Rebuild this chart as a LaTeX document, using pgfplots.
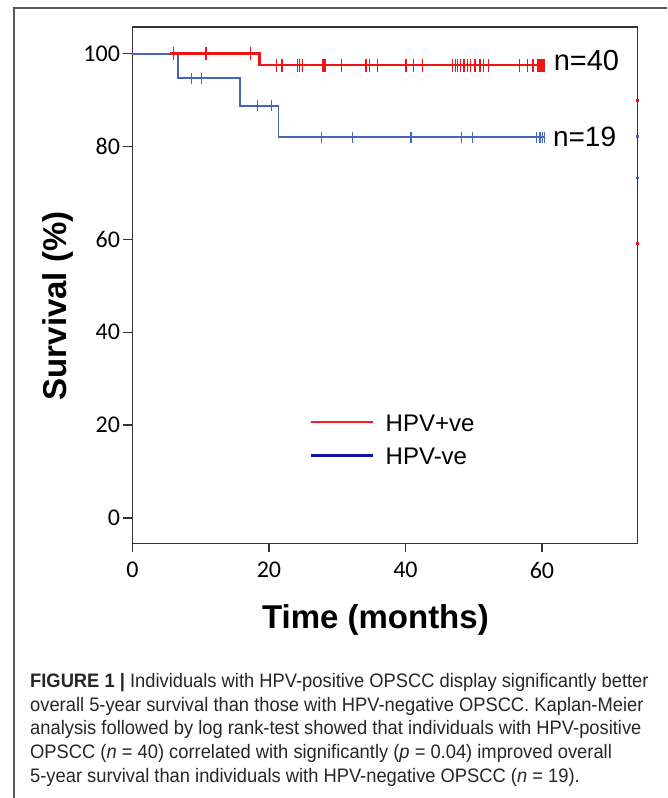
\documentclass[border=0pt]{standalone}
\usepackage{fontspec}
\setmainfont{Liberation Sans}
\newfontfamily\tickfont{Carlito}
\newfontfamily\capfont[FakeStretch=0.94]{Liberation Sans}
\usepackage{pgfplots}
\pgfplotsset{compat=1.18}

\definecolor{kmred}{RGB}{240,20,20}
\definecolor{kmblue}{RGB}{70,100,185}
\definecolor{legred}{RGB}{250,30,30}
\definecolor{legblue}{RGB}{10,20,160}
\definecolor{framegray}{RGB}{90,90,90}

\begin{document}
\begin{tikzpicture}[x=1pt,y=1pt]
\useasboundingbox (0,0) rectangle (667,798);
% outer figure frame (cut at right and bottom)
\draw[framegray, line width=1.2pt] (14,0) -- (14,790) -- (667,790);

\begin{axis}[
  at={(132.5pt,254.5pt)}, anchor=south west,
  width=505pt, height=516.5pt, scale only axis,
  xmin=0, xmax=74, ymin=-5.5, ymax=105.75,
  xtick={0,20,40,60}, ytick={0,20,...,100},
  tick align=outside, tick pos=left,
  major tick length=9pt,
  axis line style={black!80, line width=1.3pt},
  every tick/.style={black!80, line width=1.3pt},
  ticklabel style={font=\tickfont\fontsize{24}{24}\selectfont},
  /pgf/number format/assume math mode=true,
  x tick label style={yshift=-6pt},
  xlabel={Time (months)}, ylabel={Survival (\%)},
  label style={font=\bfseries\fontsize{33}{33}\selectfont},
  xlabel style={at={(axis description cs:0.481,-0.1636)}, anchor=base},
  ylabel style={at={(axis description cs:-0.1475,0.46)}, anchor=center},
  clip=false,
  legend cell align=left,
  legend style={at={(axis cs:26.0,22.3)}, anchor=north west, draw=none, fill=none,
    inner sep=0pt, row sep=15.5pt, font=\fontsize{24}{24}\selectfont,
    nodes={inner sep=0pt},
    /tikz/every odd column/.append style={column sep=11pt}},
  legend image code/.code={\draw[#1] (0pt,1.8pt) -- (62pt,1.8pt);},
]
% HPV-ve curve
\addplot[const plot, kmblue, line width=1.8pt, forget plot] coordinates
  {(0,100) (6.7,94.7) (15.7,88.8) (21.4,82.0) (60.5,82.0)};
\addplot[only marks, mark=|, mark size=5.5pt, kmblue, mark options={line width=1.3pt}, forget plot] coordinates
  {(8.6,94.7)(10.1,94.7)(18.3,88.8)(20.4,88.8)
   (27.7,82.0)(32.2,82.0)(40.8,82.0)(48.2,82.0)(49.8,82.0)
   (59.2,82.0)(59.7,82.0)(60.1,82.0)(60.4,82.0)};
% HPV+ve curve
\addplot[const plot, kmred, line width=2.4pt, forget plot] coordinates
  {(5.5,100) (18.6,97.5) (60.4,97.5)};
\addplot[only marks, mark=|, mark size=6.5pt, kmred, mark options={line width=1.5pt}, forget plot] coordinates
  {(6.0,100)(10.8,100)(17.3,100)
   (21.1,97.5)(21.9,97.5)(24.2,97.5)(24.5,97.5)(24.9,97.5)(27.9,97.5)(28.2,97.5)
   (30.6,97.5)(34.2,97.5)(34.7,97.5)(35.9,97.5)(40.1,97.5)(41.2,97.5)(42.5,97.5)
   (46.9,97.5)(47.3,97.5)(47.6,97.5)(48.1,97.5)(48.6,97.5)(49.1,97.5)(49.5,97.5)
   (50.2,97.5)(50.9,97.5)(51.4,97.5)(52.2,97.5)(56.7,97.5)(57.9,97.5)(58.7,97.5)
   (59.4,97.5)(59.6,97.5)(59.8,97.5)(60.0,97.5)(60.1,97.5)(60.2,97.5)(60.3,97.5)(60.4,97.5)};
% stray specks on the right border
\addplot[only marks, mark=square*, mark size=0.9pt, kmred, forget plot] coordinates {(74,90.0)(74,59.2)};
\addplot[only marks, mark=square*, mark size=0.9pt, kmblue, forget plot] coordinates {(74,82.3)(74,73.3)};

\addlegendimage{legred, line width=2.6pt}
\addlegendentry{HPV+ve}
\addlegendimage{legblue, line width=2.6pt}
\addlegendentry{HPV-ve}

\node[anchor=base west, inner sep=0pt, font=\fontsize{29}{29}\selectfont] at (axis cs:61.7,96.3) {n=40};
\node[anchor=base west, inner sep=0pt, font=\fontsize{28}{28}\selectfont] at (axis cs:61.6,80.0) {n=19};
\end{axis}

% caption
\begin{scope}[every node/.style={anchor=base west, inner sep=0pt, text=black!85,
    font=\capfont\fontsize{19.5}{23.5}\selectfont}]
\node at (30,110) {\textbf{FIGURE 1 |} Individuals with HPV-positive OPSCC display significantly better};
\node at (30,86.5) {overall 5-year survival than those with HPV-negative OPSCC. Kaplan-Meier};
\node at (30,63) {analysis followed by log rank-test showed that individuals with HPV-positive};
\node at (30,39.5) {OPSCC (\textit{n} = 40) correlated with significantly (\textit{p} = 0.04) improved overall};
\node at (30,16) {5-year survival than individuals with HPV-negative OPSCC (\textit{n} = 19).};
\end{scope}
\end{tikzpicture}
\end{document}
